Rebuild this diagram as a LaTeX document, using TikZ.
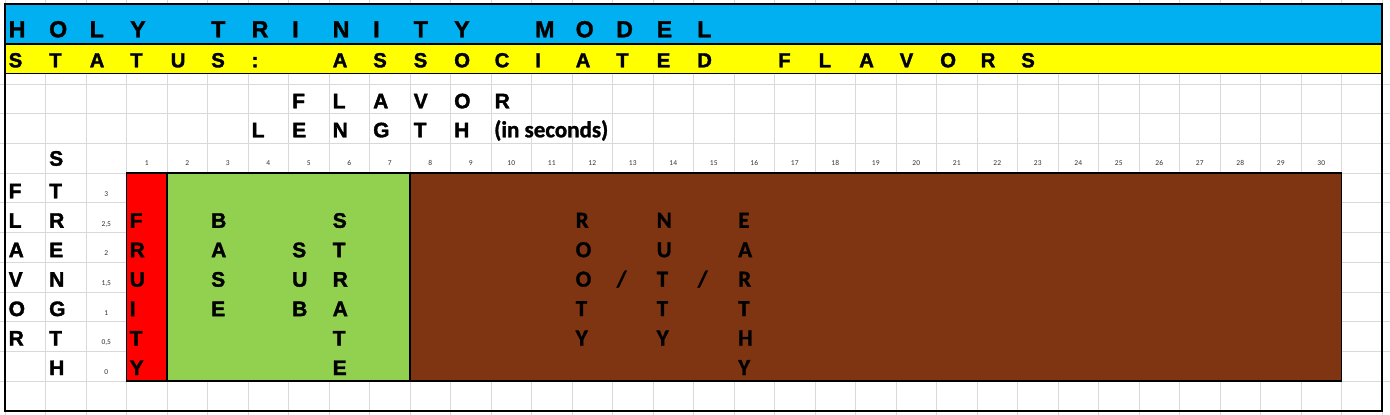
\documentclass[tikz,border=0pt]{standalone}
\usepackage{fontspec}
\setmainfont{Liberation Sans}
\newfontfamily\bsans{Liberation Sans Bold}[FakeBold=1.6]
\newfontfamily\calfont{Carlito}
\newfontfamily\calbold{Carlito Bold}[FakeBold=1.2]
\definecolor{hdrblue}{HTML}{00B0F0}
\definecolor{hdryellow}{HTML}{FFFF00}
\definecolor{cellred}{HTML}{FF0000}
\definecolor{cellgreen}{HTML}{92D050}
\definecolor{cellbrown}{HTML}{7F3512}
\definecolor{gridgray}{HTML}{D9D9D9}
\newcommand\cx[1]{(5+40.5*(#1))}
\newcommand\ry[1]{(84+29.7*(#1))}
\newcommand\bl[1]{(198.3+29.45*((#1)-1))}
\tikzset{
  gridline/.style={draw=gridgray, line width=0.8pt},
  blockline/.style={draw=black, line width=1.6pt},
  bandline/.style={draw=black, line width=1.5pt},
  ttl/.style={font=\bsans\fontsize{23.2}{23.2}\selectfont, inner sep=0pt, anchor=base west},
  sts/.style={font=\bsans\fontsize{20.4}{20.4}\selectfont, inner sep=0pt, anchor=base west},
  big/.style={font=\bsans\fontsize{21}{21}\selectfont, inner sep=0pt, anchor=base west},
  cal/.style={font=\calbold\fontsize{23}{23}\selectfont, inner sep=0pt, anchor=base west},
  calins/.style={font=\calbold\fontsize{23}{23}\selectfont, inner sep=0pt, anchor=base west},
  tiny/.style={font=\calfont\fontsize{7.5}{7.5}\selectfont, text=black!80, inner sep=0pt, anchor=base},
}
\begin{document}
\begin{tikzpicture}[x=1pt,y=-1pt]
\useasboundingbox (0,0) rectangle (1390,415);
\fill[white] (0,0) rectangle (1390,415);
% grid
\foreach \i in {0,...,34} \draw[gridline] ({\cx{\i}},0) -- ({\cx{\i}},415);
\foreach \k in {0,...,10} \draw[gridline] (0,{\ry{\k}}) -- (1390,{\ry{\k}});
% header bands
\fill[hdrblue] (5,4) rectangle (1382,44);
\fill[hdryellow] (5,44) rectangle (1382,73.5);
\draw[bandline] (5,44) -- (1382,44);
\draw[bandline] (5,73.5) -- (1382,73.5);
% blocks
\draw[blockline, fill=cellred] ({\cx{3}},{\ry{3}}) rectangle ({\cx{4}},{\ry{10}});
\draw[blockline, fill=cellgreen] ({\cx{4}},{\ry{3}}) rectangle ({\cx{10}},{\ry{10}});
\draw[blockline, fill=cellbrown] ({\cx{10}},{\ry{3}}) rectangle ({\cx{33}},{\ry{10}});
% outer border
\draw[line width=2pt] (5,4) rectangle (1382,410.5);
% title
\foreach \c/\l in {0/H,1/O,2/L,3/Y,5/T,6/R,7/I,8/N,9/I,10/T,11/Y,13/M,14/O,15/D,16/E,17/L}
  \node[ttl] (ttl\c) at ({\cx{\c}+3.5},37.3) {\l};
% status
\foreach \c/\l in {0/S,1/T,2/A,3/T,4/U,5/S,6/:,8/A,9/S,10/S,11/O,12/C,13/I,14/A,15/T,16/E,17/D,19/F,20/L,21/A,22/V,23/O,24/R,25/S}
  \node[sts] (sts\c) at ({\cx{\c}+3.5},67.3) {\l};
% flavor length
\foreach \c/\l in {7/F,8/L,9/A,10/V,11/O,12/R}
  \node[big] (fl\c) at ({\cx{\c}+3.5},108.3) {\l};
\foreach \c/\l in {6/L,7/E,8/N,9/G,10/T,11/H}
  \node[big] (ln\c) at ({\cx{\c}+3.5},137.3) {\l};
\node[calins] (ins) at ({\cx{12}+3},137.3) {(in seconds)};
% strength S
\node[big] (sS) at ({\cx{1}+3.5},165.7) {S};
% column numbers
\foreach \n in {1,...,30}
  \node[tiny] (hd\n) at ({\cx{2+\n}+20.25},165.7) {\n};
% vertical labels
\foreach \r/\l in {1/F,2/L,3/A,4/V,5/O,6/R}
  \node[big] (fv\r) at ({\cx{0}+3.5},{\bl{\r}}) {\l};
\foreach \r/\l in {1/T,2/R,3/E,4/N,5/G,6/T,7/H}
  \node[big] (st\r) at ({\cx{1}+3.5},{\bl{\r}}) {\l};
% strength values
\node[tiny] (vl1) at ({\cx{2}+20.25},{\ry{4}-6.5}) {3};
\node[tiny] (vl2) at ({\cx{2}+20.25},{\ry{5}-6.5}) {2,5};
\node[tiny] (vl3) at ({\cx{2}+20.25},{\ry{6}-6.5}) {2};
\node[tiny] (vl4) at ({\cx{2}+20.25},{\ry{7}-6.5}) {1,5};
\node[tiny] (vl5) at ({\cx{2}+20.25},{\ry{8}-6.5}) {1};
\node[tiny] (vl6) at ({\cx{2}+20.25},{\ry{9}-6.5}) {0,5};
\node[tiny] (vl7) at ({\cx{2}+20.25},{\ry{10}-6.5}) {0};
% fruity
\foreach \r/\l in {2/F,3/R,4/U,5/I,6/T,7/Y}
  \node[big] (fr\r) at ({\cx{3}+3},{\bl{\r}}) {\l};
% base
\foreach \r/\l in {2/B,3/A,4/S,5/E}
  \node[big] (ba\r) at ({\cx{5}+3.5},{\bl{\r}}) {\l};
% sub
\foreach \r/\l in {3/S,4/U,5/B}
  \node[big] (su\r) at ({\cx{7}+3.5},{\bl{\r}}) {\l};
% strate
\foreach \r/\l in {2/S,3/T,4/R,5/A,6/T,7/E}
  \node[big] (sb\r) at ({\cx{8}+3.5},{\bl{\r}}) {\l};
% rooty / nutty / earthy
\foreach \r/\l in {2/R,3/O,4/O,5/T,6/Y}
  \node[cal] (ro\r) at ({\cx{14}+3.5},{\bl{\r}}) {\l};
\node[cal] (sl1) at ({\cx{15}+4},{\bl{4}}) {/};
\foreach \r/\l in {2/N,3/U,4/T,5/T,6/Y}
  \node[cal] (nu\r) at ({\cx{16}+3.5},{\bl{\r}}) {\l};
\node[cal] (sl2) at ({\cx{17}+4},{\bl{4}}) {/};
\foreach \r/\l in {2/E,3/A,4/R,5/T,6/H,7/Y}
  \node[cal] (ea\r) at ({\cx{18}+4},{\bl{\r}}) {\l};
\end{tikzpicture}
\end{document}
